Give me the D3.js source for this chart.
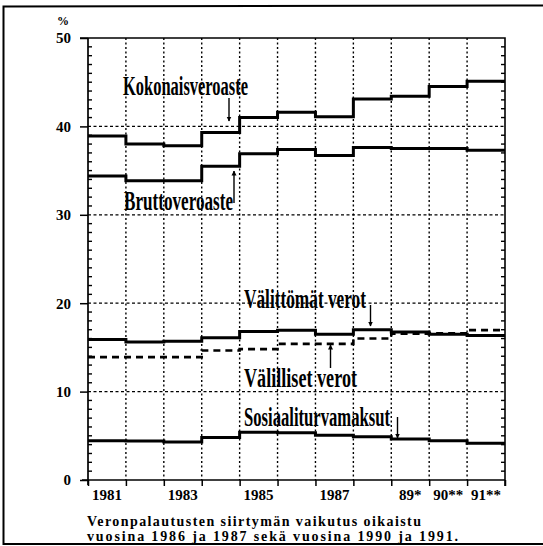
<!DOCTYPE html>
<html>
<head>
<meta charset="utf-8">
<script src="https://cdn.jsdelivr.net/npm/d3@7"></script>
<style>
  html, body { margin: 0; padding: 0; background: #fff; }
  svg { display: block; }
  text { font-family: "Liberation Serif", "DejaVu Serif", serif; font-weight: bold; fill: #000; }
</style>
</head>
<body>
<svg id="chart" width="543" height="546"></svg>
<script>
// ---- data ----
const years = [1981, 1982, 1983, 1984, 1985, 1986, 1987, 1988, 1989, 1990, 1991];
const yearLabels = ["1981", "", "1983", "", "1985", "", "1987", "", "89*", "90**", "91**"];
const kokonaisveroaste = [38.9, 38.0, 37.8, 39.3, 41.0, 41.6, 41.1, 43.1, 43.4, 44.5, 45.1];
const bruttoveroaste   = [34.4, 33.85, 33.85, 35.5, 36.9, 37.4, 36.7, 37.6, 37.5, 37.5, 37.3];
const valittomatVerot  = [15.9, 15.6, 15.7, 16.1, 16.8, 16.95, 16.5, 17.0, 16.75, 16.5, 16.35];
const valillisetVerot  = [13.9, 13.9, 13.9, 14.65, 14.8, 15.4, 15.4, 16.0, 16.55, 16.6, 16.95];
const sosiaaliturva    = [4.45, 4.4, 4.3, 4.8, 5.4, 5.35, 5.05, 4.9, 4.65, 4.45, 4.15];
const yMajorTicks = [0, 10, 20, 30, 40, 50];
const gridValues = [10, 20, 30, 40];
const footnote = ["Veronpalautusten siirtymän vaikutus oikaistu",
                  "vuosina 1986 ja 1987 sekä vuosina 1990 ja 1991."];

(function () {
const svg = d3.select("#chart");

// outer frame (open on the right, as in the scan)
svg.append("path")
  .attr("d", "M543,5.5 L3.5,6.5 L3.5,544 L543,544")
  .attr("fill", "none").attr("stroke", "#000").attr("stroke-width", 2);

const pL = 88, pR = 505, pT = 38, pB = 480;
const x = d3.scaleLinear().domain([1981, 1992]).range([pL, pR]);
const y = d3.scaleLinear().domain([0, 50]).range([pB, pT]);

const g = svg.append("g");

// vertical dotted grid lines at year boundaries
g.selectAll("path.vgrid").data(d3.range(1982, 1992)).enter().append("path")
  .attr("class", "vgrid")
  .attr("d", d => `M${x(d)},${pT}V${pB}`)
  .style("stroke", "#000").style("stroke-width", "1.4px").style("fill", "none")
  .style("stroke-dasharray", "2 2.5");

// horizontal dashed grid lines
g.selectAll("path.hgrid").data(gridValues).enter().append("path")
  .attr("class", "hgrid")
  .attr("d", d => `M${pL},${y(d)}H${pR}`)
  .style("stroke", "#000").style("stroke-width", "1.3px").style("fill", "none")
  .style("stroke-dasharray", "3 2.5");

// frame lines of the plot
g.append("path").attr("d", `M80,${y(50)}H${pR}V${pB + 6}`)
  .attr("fill", "none").attr("stroke", "#000").attr("stroke-width", 1.6);

// y axis major ticks (outside) with labels
const yAxis = d3.axisLeft(y).tickValues(yMajorTicks).tickSize(8).tickPadding(9).tickFormat(d3.format("d"));
const ya = g.append("g").attr("transform", `translate(${pL},0)`).call(yAxis);
ya.select(".domain").attr("stroke-width", 1.7).attr("d", `M0,${pT}V${pB + 5}`);
ya.selectAll(".tick line").attr("stroke-width", 1.5);
ya.selectAll(".tick text").style("font-size", "15px").style("font-family", "Liberation Serif").style("font-weight", "bold");

// minor ticks inside left and right
const minor = d3.range(1, 50).filter(v => v % 10 !== 0);
g.selectAll("path.minorL").data(minor).enter().append("path")
  .attr("class", "minorL")
  .attr("d", v => `M${pL},${y(v)}h4`)
  .style("stroke", "#000").style("stroke-width", "1.4px");
g.selectAll("path.minorR").data(minor).enter().append("path")
  .attr("class", "minorR")
  .attr("d", v => `M${pR},${y(v)}h-4`)
  .style("stroke", "#000").style("stroke-width", "1.4px");

// x axis: ticks at year boundaries, labels at centers
const xAxisTicks = d3.axisBottom(x).tickValues(d3.range(1981, 1993)).tickSize(6).tickFormat("");
const xa = g.append("g").attr("transform", `translate(0,${pB})`).call(xAxisTicks);
xa.select(".domain").attr("d", `M82,0H${pR}`).attr("stroke-width", 1.7);
xa.selectAll(".tick line").attr("stroke-width", 1.5);

g.selectAll("text.xlab").data(years).enter().append("text")
  .attr("class", "xlab")
  .attr("x", d => x(d + 0.5)).attr("y", 500)
  .attr("text-anchor", "middle").style("font-size", "15px")
  .text((d, i) => yearLabels[i]);

// "%" unit
svg.append("text").attr("x", 63).attr("y", 25).attr("text-anchor", "middle")
  .style("font-size", "12px").text("%");

// step series
function stepData(vals) {
  const pts = years.map((yr, i) => [yr, vals[i]]);
  pts.push([years[years.length - 1] + 1, vals[vals.length - 1]]);
  return pts;
}
const stepLine = d3.line().x(d => x(d[0])).y(d => y(d[1])).curve(d3.curveStepAfter);

function drawSeries(vals, dashed) {
  g.append("path").datum(stepData(vals))
    .attr("d", stepLine).attr("fill", "none").attr("stroke", "#000")
    .attr("stroke-width", dashed ? 2.6 : 3)
    .attr("stroke-dasharray", dashed ? "7,5" : null);
}
drawSeries(kokonaisveroaste, false);
drawSeries(bruttoveroaste, false);
drawSeries(valittomatVerot, false);
drawSeries(valillisetVerot, true);
drawSeries(sosiaaliturva, false);

// labels (condensed serif)
const labels = [
  { t: "Kokonaisveroaste", x: 123, y: 95, w: 125 },
  { t: "Bruttoveroaste", x: 124, y: 210, w: 109 },
  { t: "Välittömät verot", x: 244, y: 308, w: 122 },
  { t: "Välilliset verot", x: 244, y: 387, w: 113 },
  { t: "Sosiaaliturvamaksut", x: 244, y: 426, w: 146 }
];
labels.forEach(l => {
  svg.append("text").attr("x", l.x).attr("y", l.y)
    .attr("textLength", l.w).attr("lengthAdjust", "spacingAndGlyphs")
    .style("font-size", "27px").text(l.t);
});

// arrows
svg.append("defs").append("marker").attr("id", "ah")
  .attr("viewBox", "0 0 10 10").attr("refX", 9).attr("refY", 5)
  .attr("markerWidth", 5).attr("markerHeight", 7).attr("orient", "auto-start-reverse")
  .attr("markerUnits", "userSpaceOnUse")
  .append("path").attr("d", "M0,0 L10,5 L0,10 z").attr("fill", "#000");
const arrows = [
  [229, 98, 229, 121],
  [234, 203, 234, 171],
  [370.5, 305, 370.5, 326],
  [330.5, 368, 330.5, 345],
  [397.5, 417, 397.5, 438]
];
arrows.forEach(a => {
  svg.append("line").attr("x1", a[0]).attr("y1", a[1]).attr("x2", a[2]).attr("y2", a[3])
    .attr("stroke", "#000").attr("stroke-width", 1.4).attr("marker-end", "url(#ah)");
});

// footnote
footnote.forEach((t, i) => {
  svg.append("text").attr("x", 87).attr("y", i === 0 ? 526 : 541)
    .attr("textLength", i === 0 ? 334 : 371).attr("lengthAdjust", "spacing")
    .style("font-size", "14px").text(t);
});
})();
</script>
</body>
</html>
